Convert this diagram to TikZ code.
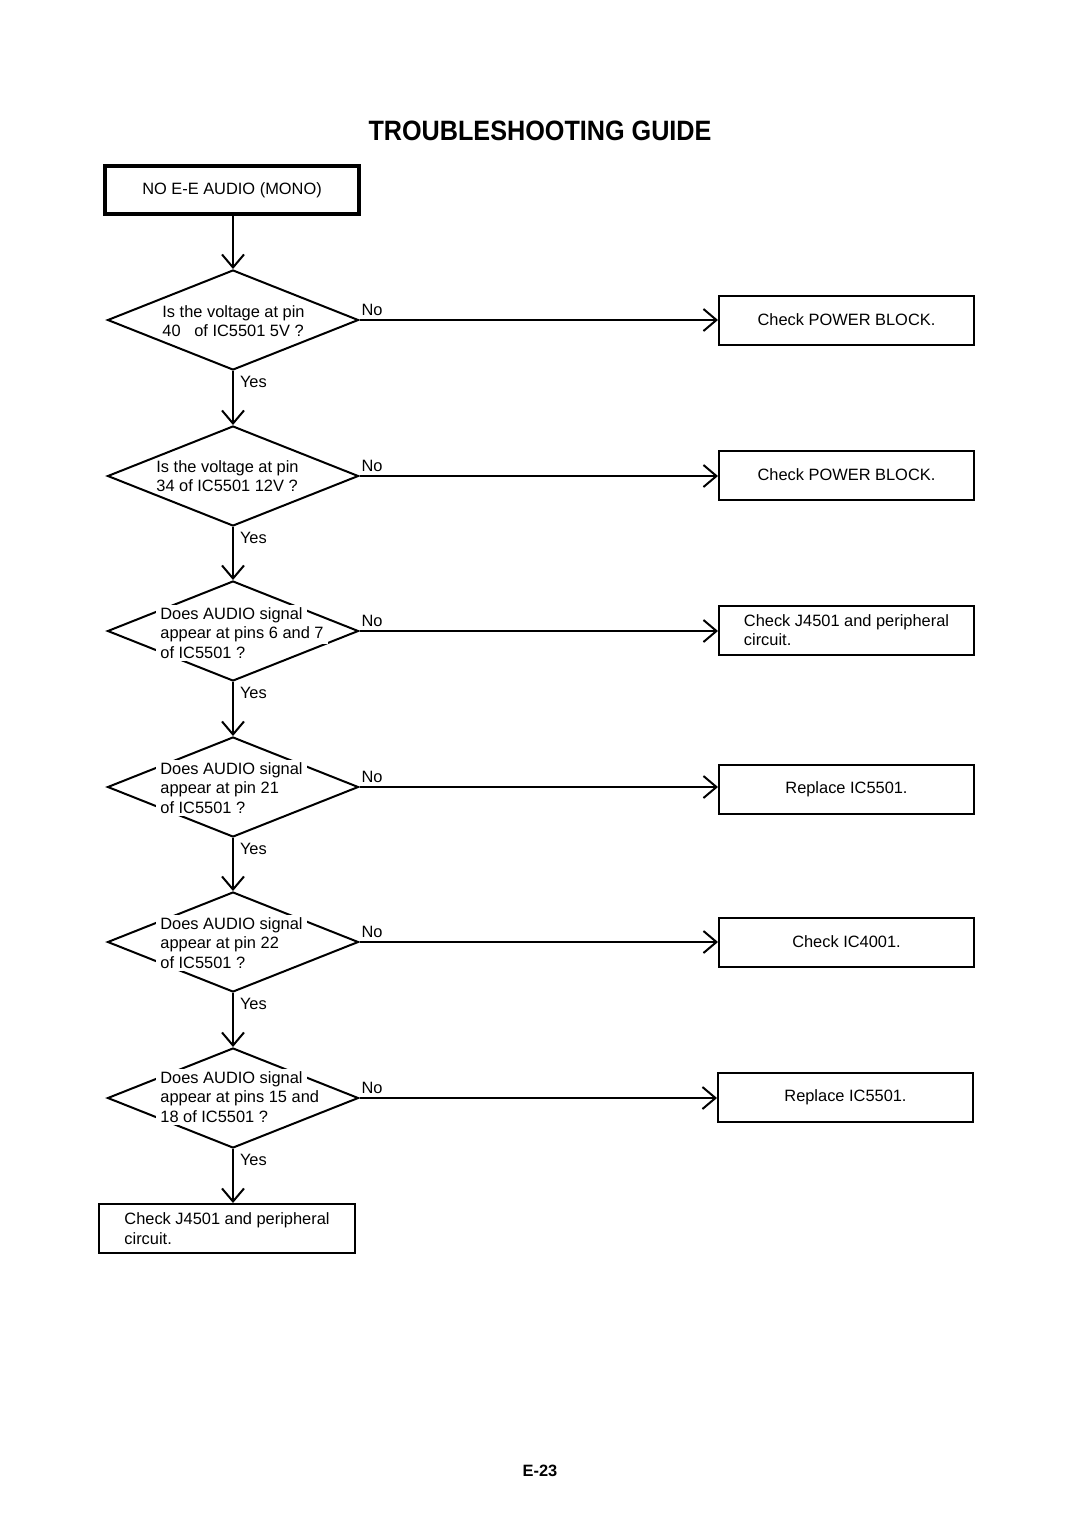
\documentclass[tikz,border=0pt]{standalone}
\usepackage{fontspec}
\setmainfont{Liberation Sans}
\usepackage{graphicx}
\usepackage{tikz}
\usetikzlibrary{shapes.geometric,arrows.meta}

% white ground under a line of text, so that it cuts the diamond edges
\newcommand\gap[1]{\makebox[0pt][l]{\hspace{-2pt}\smash{\fboxsep=1pt\colorbox{white}{\hspace{1pt}\phantom{#1}\hspace{1pt}}}}#1}

\begin{document}
\begin{tikzpicture}[x=0.5pt, y=-0.5pt,
    font=\fontsize{8.2}{9.75}\selectfont,
    box/.style={draw, line width=1pt, minimum width=127.5pt, minimum height=24.5pt, inner sep=0pt, align=left},
    dia/.style={diamond, draw, line width=1pt, minimum width=125.5pt, minimum height=50pt, inner sep=0pt},
    ask/.style={anchor=west, align=left, inner sep=0pt},
    arr/.style={-{Straight Barb[length=6.5pt,width=11pt]}, line width=1pt},
    yes/.style={right, pos=0.2, inner sep=3pt},
    no/.style={above right, pos=0, inner xsep=0.5pt, inner ysep=1.8pt}]
    \useasboundingbox (0,0) rectangle (1080,1528);

    \node (title) at (540,131) {\fontsize{14}{16}\selectfont\bfseries\scalebox{0.9}[1]{TROUBLESHOOTING GUIDE}};
    \node[box, line width=1.75pt, minimum width=127pt, minimum height=24pt] (start) at (232,190) {NO E-E AUDIO (MONO)};

    % questions
    \foreach \y [count=\i] in {320, 476, 631, 787, 942, 1098}{
        \node[dia] (q\i) at (233,\y) {};
    }
    \node[ask] (t1) at (162,321) {Is the voltage at pin\\40 \ \ of IC5501 5V ?};
    \node[ask] (t2) at (156,476) {Is the voltage at pin\\34 of IC5501 12V ?};
    \node[ask] (t3) at (160,633) {\gap{Does AUDIO signal}\\\gap{appear at pins 6 and 7}\\\gap{of IC5501 ?}};
    \node[ask] (t4) at (160,788) {\gap{Does AUDIO signal}\\\gap{appear at pin 21}\\\gap{of IC5501 ?}};
    \node[ask] (t5) at (160,943) {\gap{Does AUDIO signal}\\\gap{appear at pin 22}\\\gap{of IC5501 ?}};
    \node[ask] (t6) at (160,1097) {\gap{Does AUDIO signal}\\\gap{appear at pins 15 and}\\\gap{18 of IC5501 ?}};

    % answers
    \node[box] (r1) at (846.5,320) {Check POWER BLOCK.};
    \node[box] (r2) at (846.5,475) {Check POWER BLOCK.};
    \node[box] (r3) at (846.5,630) {Check J4501 and peripheral\\circuit.};
    \node[box] (r4) at (846.5,789) {Replace IC5501.};
    \node[box] (r5) at (846.5,942) {Check IC4001.};
    \node[box] (r6) at (845.5,1097) {Replace IC5501.};
    \node[box, minimum width=128pt] (e) at (227,1228.5) {Check J4501 and peripheral\\circuit.};

    \node (page) at (540,1471) {\fontsize{8.2}{10}\selectfont\bfseries E-23};

    \draw[arr] (start.south -| q1.north) -- (q1.north);
    \foreach \i/\j in {1/2, 2/3, 3/4, 4/5, 5/6}{
        \draw[arr] (q\i.south) -- node[yes]{Yes} (q\j.north);
    }
    \draw[arr] (q6.south) -- node[yes]{Yes} (q6.south |- e.north);
    \foreach \i in {1,...,6}{
        \draw[arr] (q\i.east) -- node[no]{No} (q\i.east -| r\i.west);
    }
\end{tikzpicture}
\end{document}
